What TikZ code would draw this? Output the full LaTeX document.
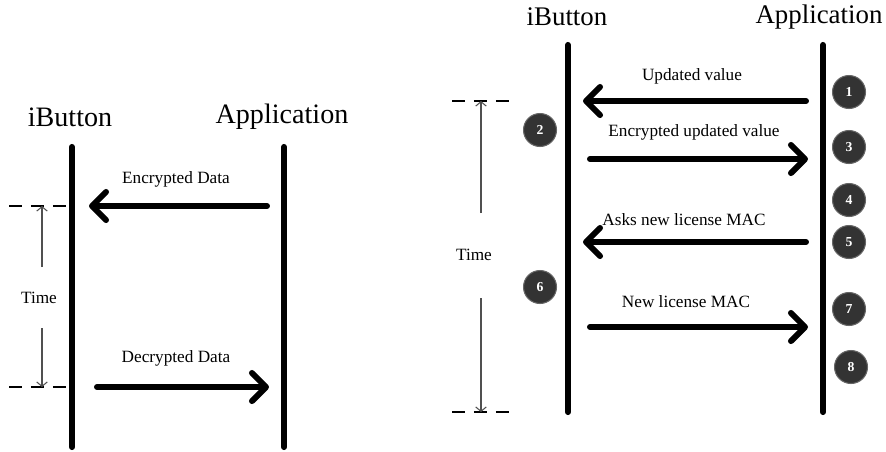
\documentclass[tikz,border=0pt]{standalone}
\usepackage{fontspec}
\setmainfont{Liberation Serif}
\usepackage{xcolor}
\usepackage{tikz}
\usetikzlibrary{arrows.meta, positioning, calc}
\definecolor{stepgray}{HTML}{333333}
\definecolor{timegray}{HTML}{505050}

\tikzset{
  lifeline/.style={line width=3.5pt, line cap=round},
  msg/.style={line width=3.4pt, line cap=round,
    -{Straight Barb[length=8pt, width=16pt, line cap=round, line join=round]}},
  marker/.style={line width=1.6pt, dash pattern=on 7.5pt off 5pt},
  timeline/.style={timegray, line width=0.6pt, -{Straight Barb[length=2.5pt, width=6pt]}},
  actor/.style={font=\fontsize{16}{18}\selectfont, inner sep=0pt},
  msglabel/.style={font=\fontsize{9.8}{11}\selectfont, inner sep=0pt},
  stepnum/.style={circle, fill=stepgray, draw=stepgray!75, line width=0.6pt,
    minimum size=0.66cm, inner sep=0pt, text=white, font=\fontsize{7.8}{9}\selectfont\bfseries},
}

\begin{document}
\begin{tikzpicture}[x=0.02cm, y=-0.02cm]

  \useasboundingbox (0,0) rectangle (886,451);

  %% Left: single exchange
  \node[actor] (ib1) at (70,117) {iButton};
  \node[actor] (app1) at (282,117) {Application};
  \draw[lifeline] (72,147) -- (72,447);
  \draw[lifeline] (284,147) -- (284,447);

  \coordinate (enc1s) at (267,206);
  \coordinate (enc1t) at (89,206);
  \coordinate (dec1s) at (97,387);
  \coordinate (dec1t) at (269,387);
  \draw[msg] (enc1s) -- (enc1t);
  \draw[msg] (dec1s) -- (dec1t);
  \node[msglabel] (enc1) at (176,179) {Encrypted Data};
  \node[msglabel] (dec1) at (176,358) {Decrypted Data};

  \draw[marker] (9,206) -- (70,206);
  \draw[marker] (9,387) -- (70,387);
  \node[msglabel] (time1) at (39,298) {Time};
  \coordinate (t1a) at (42,267);
  \coordinate (t1b) at (42,328);
  \draw[timeline] (t1a) -- (42,206);
  \draw[timeline] (t1b) -- (42,387);

  %% Right: license update
  \node[actor, font=\fontsize{15.3}{17}\selectfont] (ib2) at (567,17) {iButton};
  \node[actor, font=\fontsize{15.3}{17}\selectfont] (app2) at (819,17) {Application};
  \draw[lifeline] (568,45) -- (568,412);
  \draw[lifeline] (823,45) -- (823,412);

  \foreach \k/\y/\xs/\xt/\lx/\ly/\txt in {
    a/101/806/583/692/76/{Updated value},
    b/159/590/808/694/132/{Encrypted updated value},
    c/242/806/583/684/220/{Asks new license MAC},
    d/327/590/808/686/302/{New license MAC}
  }{
    \coordinate (m\k s) at (\xs,\y);
    \coordinate (m\k t) at (\xt,\y);
    \draw[msg] (m\k s) -- (m\k t);
    \node[msglabel] (m\k) at (\lx,\ly) {\txt};
  }

  \draw[marker] (452,101) -- (509,101);
  \draw[marker] (452,412) -- (509,412);
  \node[msglabel] (time2) at (474,255) {Time};
  \coordinate (t2a) at (481,213);
  \coordinate (t2b) at (481,298);
  \draw[timeline] (t2a) -- (481,101);
  \draw[timeline] (t2b) -- (481,412);

  %% Steps
  \foreach \n/\x/\y in {1/849/92, 2/540/130, 3/849/147, 4/849/200,
                        5/849/242, 6/540/287, 7/849/309, 8/851/367}{
    \node[stepnum] (s\n) at (\x,\y) {\n};
  }

\end{tikzpicture}
\end{document}
